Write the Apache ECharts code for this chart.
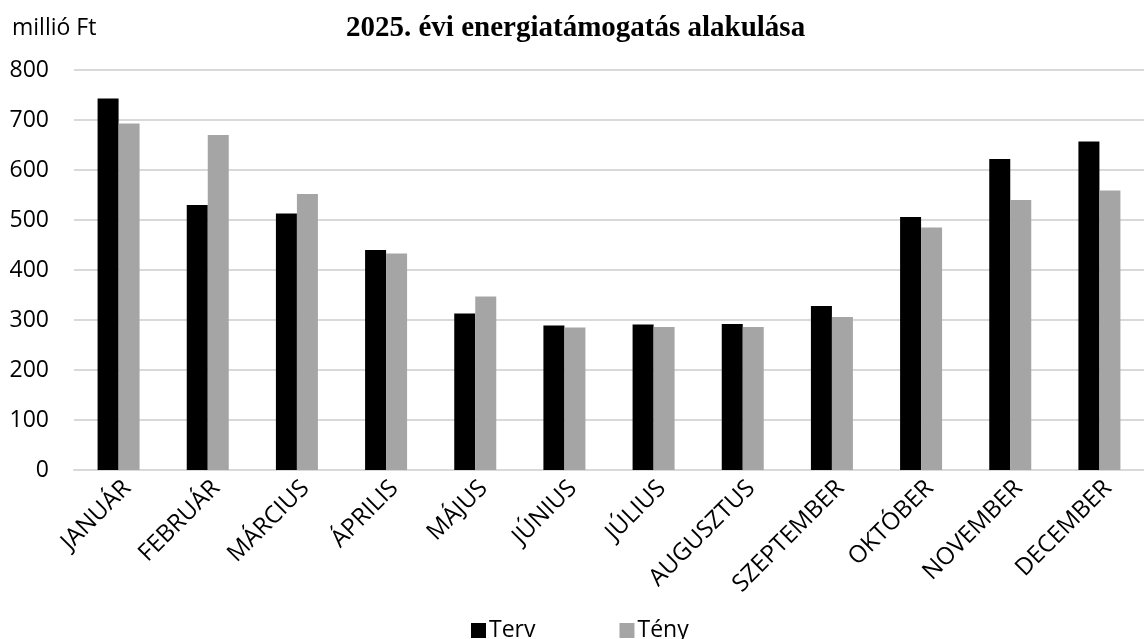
<!DOCTYPE html>
<html>
<head>
<meta charset="utf-8">
<script src="https://cdn.jsdelivr.net/npm/echarts@6/dist/echarts.min.js"></script>
<style>
  html, body { margin: 0; padding: 0; background: #fff; }
  #chart { width: 1144px; height: 639px; }
</style>
</head>
<body>
<div id="chart"></div>
<script>
// adatok
const months = ['JANUÁR', 'FEBRUÁR', 'MÁRCIUS', 'ÁPRILIS', 'MÁJUS', 'JÚNIUS', 'JÚLIUS', 'AUGUSZTUS', 'SZEPTEMBER', 'OKTÓBER', 'NOVEMBER', 'DECEMBER'];
const terv = [743, 530, 513, 440, 313, 289, 291, 292, 328, 506, 622, 657];
const teny = [693, 670, 552, 433, 347, 285, 286, 286, 306, 485, 540, 559];
const yTicks = [0, 100, 200, 300, 400, 500, 600, 700, 800];

const chart = echarts.init(document.getElementById('chart'));
const sans = '"Open Sans", "Noto Sans", sans-serif';

chart.setOption({
  backgroundColor: '#ffffff',
  animation: false,
  title: {
    text: '2025. évi energiatámogatás alakulása',
    left: 341,
    top: 9,
    textStyle: {
      fontFamily: '"Liberation Serif", "Times New Roman", serif',
      fontWeight: 'bold',
      fontSize: 29,
      color: '#000'
    }
  },
  graphic: [{
    type: 'text',
    left: 12,
    top: 17,
    style: { text: 'millió Ft', font: '23px ' + sans, fill: '#000' }
  }],
  legend: {
    left: 466,
    top: 614,
    itemWidth: 15,
    itemHeight: 15,
    itemGap: 84,
    icon: 'rect',
    textStyle: { fontFamily: sans, fontSize: 23, color: '#000', padding: [0, 0, 0, -2] },
    data: ['Terv', 'Tény']
  },
  grid: {
    left: 74,
    right: -14,
    top: 70,
    bottom: 169
  },
  xAxis: {
    type: 'category',
    data: months,
    axisLine: { lineStyle: { color: '#d9d9d9', width: 2 } },
    axisTick: { show: false },
    axisLabel: {
      rotate: 45,
      interval: 0,
      margin: 6,
      verticalAlign: 'top',
      fontFamily: sans,
      fontSize: 24,
      color: '#000'
    }
  },
  yAxis: {
    type: 'value',
    min: yTicks[0],
    max: yTicks[yTicks.length - 1],
    interval: 100,
    axisLine: { show: false },
    axisTick: { show: false },
    splitLine: { lineStyle: { color: '#d9d9d9', width: 2 } },
    axisLabel: {
      margin: 25,
      fontFamily: sans,
      fontSize: 23,
      color: '#000'
    }
  },
  series: [
    {
      name: 'Terv',
      type: 'bar',
      data: terv,
      barWidth: 21,
      barGap: '0%',
      itemStyle: { color: '#000000' }
    },
    {
      name: 'Tény',
      type: 'bar',
      data: teny,
      barWidth: 21,
      itemStyle: { color: '#a5a5a5' }
    }
  ]
});
</script>
</body>
</html>
